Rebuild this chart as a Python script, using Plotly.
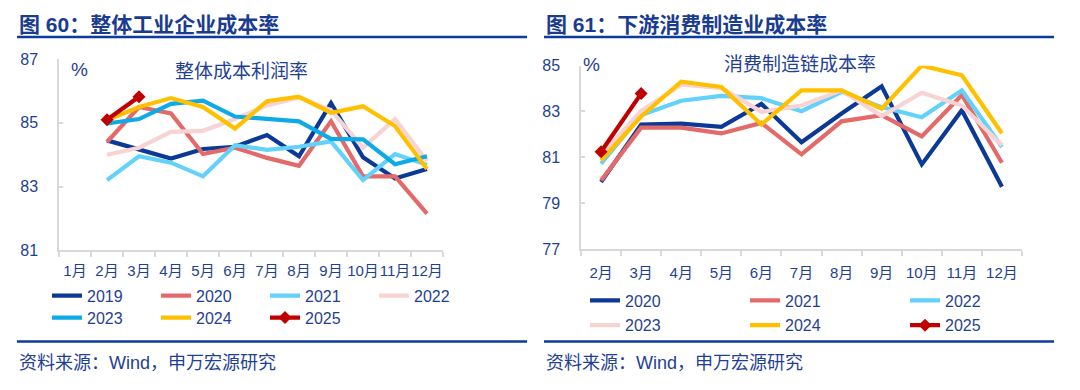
import plotly.graph_objects as go

# ---------------- data ----------------
months_left = ["1月", "2月", "3月", "4月", "5月", "6月", "7月", "8月", "9月", "10月", "11月", "12月"]
y2019_l = [None, 84.45, 84.15, 83.88, 84.18, 84.25, 84.62, 83.95, 85.62, 83.92, 83.25, 83.55]
y2020_l = [None, 84.40, 85.50, 85.30, 84.02, 84.22, 83.90, 83.65, 85.05, 83.32, 83.32, 82.15]
y2021_l = [None, 83.20, 83.95, 83.75, 83.32, 84.30, 84.15, 84.25, 84.42, 83.20, 84.02, 83.68]
y2022_l = [None, 84.00, 84.22, 84.72, 84.75, 85.12, 85.55, 85.80, 85.40, 84.22, 85.12, 83.80]
y2023_l = [None, 84.98, 85.12, 85.60, 85.70, 85.20, 85.12, 85.05, 84.50, 84.48, 83.70, 83.95]
y2024_l = [None, 85.08, 85.50, 85.78, 85.50, 84.82, 85.68, 85.82, 85.32, 85.52, 84.90, 83.55]
y2025_l = [None, 85.10, 85.82, None, None, None, None, None, None, None, None, None]

months_right = ["2月", "3月", "4月", "5月", "6月", "7月", "8月", "9月", "10月", "11月", "12月"]
y2020_r = [79.92, 82.43, 82.47, 82.33, 83.33, 81.66, 82.91, 84.10, 80.69, 83.05, 79.71]
y2021_r = [79.99, 82.29, 82.29, 82.04, 82.50, 81.13, 82.57, 82.84, 81.91, 83.72, 80.76]
y2022_r = [80.72, 82.84, 83.47, 83.68, 83.58, 83.01, 83.86, 83.19, 82.75, 83.92, 81.45]
y2023_r = [81.10, 83.03, 84.17, 84.03, 82.98, 83.26, 83.92, 82.80, 83.82, 83.26, 81.52]
y2024_r = [80.86, 82.78, 84.30, 84.07, 82.43, 83.92, 83.92, 83.12, 85.00, 84.58, 82.05]
y2025_r = [81.24, 83.78, None, None, None, None, None, None, None, None, None]

left_ticks = [81, 83, 85, 87]
right_ticks = [77, 79, 81, 83, 85]

# ---------------- styles ----------------
NAVY = "#0B3A96"
RED = "#E46A6A"
CYAN = "#62D2FA"
PINK = "#F8D3D3"
BLUE = "#0EAAE6"
YELLOW = "#FFC000"
DARKRED = "#C00000"
TXT = "#1F3F95"
RULE = "#0B3B9B"
GRID = "#D9D9D9"
LW = 4.2

OFF = 8  # default page body margin around the figure div
PAGE_W, PAGE_H = 1080, 390
W, H = PAGE_W - 2 * OFF, PAGE_H - 2 * OFF  # figure fits the window exactly


def px(x):
    return (x - OFF) / W


def py(y):
    return (H - (y - OFF)) / H


FONT = "Liberation Sans, Arial, Noto Sans CJK SC, sans-serif"
NARROW = "Liberation Sans Narrow, Arial Narrow, Liberation Sans, Noto Sans CJK SC, sans-serif"
CJK = "Noto Sans CJK SC, sans-serif"

fig = go.Figure()

left_series = [("2019", y2019_l, NAVY, "legend"), ("2020", y2020_l, RED, "legend"),
               ("2021", y2021_l, CYAN, "legend"), ("2022", y2022_l, PINK, "legend"),
               ("2023", y2023_l, BLUE, "legend2"), ("2024", y2024_l, YELLOW, "legend2"),
               ("2025", y2025_l, DARKRED, "legend2")]
for name, ys, col, lg in left_series:
    is25 = name == "2025"
    fig.add_trace(go.Scatter(
        x=months_left, y=ys, name=name, xaxis="x", yaxis="y", legend=lg,
        mode="lines+markers" if is25 else "lines",
        line=dict(color=col, width=LW),
        marker=dict(symbol="diamond", size=10, color=col) if is25 else None,
        connectgaps=False, hoverinfo="skip"))

right_series = [("2020", y2020_r, NAVY, "legend3"), ("2021", y2021_r, RED, "legend3"),
                ("2022", y2022_r, CYAN, "legend3"), ("2023", y2023_r, PINK, "legend4"),
                ("2024", y2024_r, YELLOW, "legend4"), ("2025", y2025_r, DARKRED, "legend4")]
for name, ys, col, lg in right_series:
    is25 = name == "2025"
    fig.add_trace(go.Scatter(
        x=months_right, y=ys, name=name, xaxis="x2", yaxis="y2", legend=lg,
        mode="lines+markers" if is25 else "lines",
        line=dict(color=col, width=LW),
        marker=dict(symbol="diamond", size=10, color=col) if is25 else None,
        connectgaps=False, hoverinfo="skip"))

xcommon = dict(type="category", showgrid=False, zeroline=False, showline=True,
               linecolor=GRID, linewidth=1.5, ticks="outside", ticklen=5, tickcolor=GRID,
               tickwidth=1.5, tickson="boundaries", tickangle=0,
               tickfont=dict(family=NARROW, size=15, color=TXT), fixedrange=True)
ycommon = dict(showgrid=False, zeroline=False, showline=True, linecolor=GRID, linewidth=1.5,
               ticks="inside", ticklen=4, tickcolor=GRID, tickwidth=1.5,
               ticklabelstandoff=16, tickfont=dict(family=FONT, size=16, color=TXT),
               fixedrange=True)

leg = dict(orientation="h", xanchor="left", yanchor="middle", bgcolor="rgba(0,0,0,0)",
           font=dict(family=FONT, size=16, color=TXT), tracegroupgap=0, itemclick=False)

fig.update_layout(
    width=W, height=H, margin=dict(l=0, r=0, t=0, b=0),
    paper_bgcolor="white", plot_bgcolor="white", showlegend=True,
    xaxis=dict(xcommon, domain=[px(59), px(443)], anchor="y", ticklabelstandoff=6,
               categoryorder="array", categoryarray=months_left, range=[-0.5, 11.5]),
    yaxis=dict(ycommon, domain=[py(253.3), py(53.3)], anchor="x", range=[81, 87],
               tickvals=left_ticks),
    xaxis2=dict(xcommon, domain=[px(581), px(1022)], anchor="y2", ticklabelstandoff=9,
                categoryorder="array", categoryarray=months_right, range=[-0.5, 10.5]),
    yaxis2=dict(ycommon, domain=[py(252), py(60)], anchor="x2", range=[77, 85],
                tickvals=right_ticks),
    legend=dict(leg, x=px(47), y=py(301), entrywidth=64),
    legend2=dict(leg, x=px(47), y=py(324), entrywidth=64),
    legend3=dict(leg, x=px(585), y=py(306), entrywidth=115),
    legend4=dict(leg, x=px(585), y=py(332), entrywidth=115),
)

ann = []
ann.append(dict(text="<b>图 60：整体工业企业成本率</b>", x=px(17), y=py(16.5), xref="paper", yref="paper",
                xanchor="left", yanchor="middle", showarrow=False,
                font=dict(family=FONT, size=21, color="#1A3C8F")))
ann.append(dict(text="<b>图 61：下游消费制造业成本率</b>", x=px(544), y=py(16.5), xref="paper", yref="paper",
                xanchor="left", yanchor="middle", showarrow=False,
                font=dict(family=FONT, size=21, color="#1A3C8F")))
ann.append(dict(text="%", x=px(79), y=py(64), xref="paper", yref="paper", showarrow=False,
                xanchor="center", yanchor="middle",
                font=dict(family=FONT, size=19, color=TXT)))
ann.append(dict(text="整体成本利润率", x=px(241), y=py(64), xref="paper", yref="paper", showarrow=False,
                xanchor="center", yanchor="middle",
                font=dict(family=CJK, size=19, color=TXT)))
ann.append(dict(text="%", x=px(591), y=py(59), xref="paper", yref="paper", showarrow=False,
                xanchor="center", yanchor="middle",
                font=dict(family=FONT, size=19, color=TXT)))
ann.append(dict(text="消费制造链成本率", x=px(800), y=py(57), xref="paper", yref="paper", showarrow=False,
                xanchor="center", yanchor="middle",
                font=dict(family=CJK, size=19, color=TXT)))
for x0 in (17, 544):
    ann.append(dict(text="资料来源：Wind，申万宏源研究", x=px(x0), y=py(371), xref="paper", yref="paper",
                    xanchor="left", yanchor="middle", showarrow=False,
                    font=dict(family=FONT, size=18, color=TXT)))
fig.update_layout(annotations=ann)

shapes = []
for (x0, x1) in ((17, 527), (544, 1054)):
    for yy in (30, 349):
        shapes.append(dict(type="line", xref="paper", yref="paper", x0=px(x0), x1=px(x1),
                           y0=py(yy), y1=py(yy), line=dict(color=RULE, width=2.5)))
fig.update_layout(shapes=shapes)

fig.write_html("out.html")
